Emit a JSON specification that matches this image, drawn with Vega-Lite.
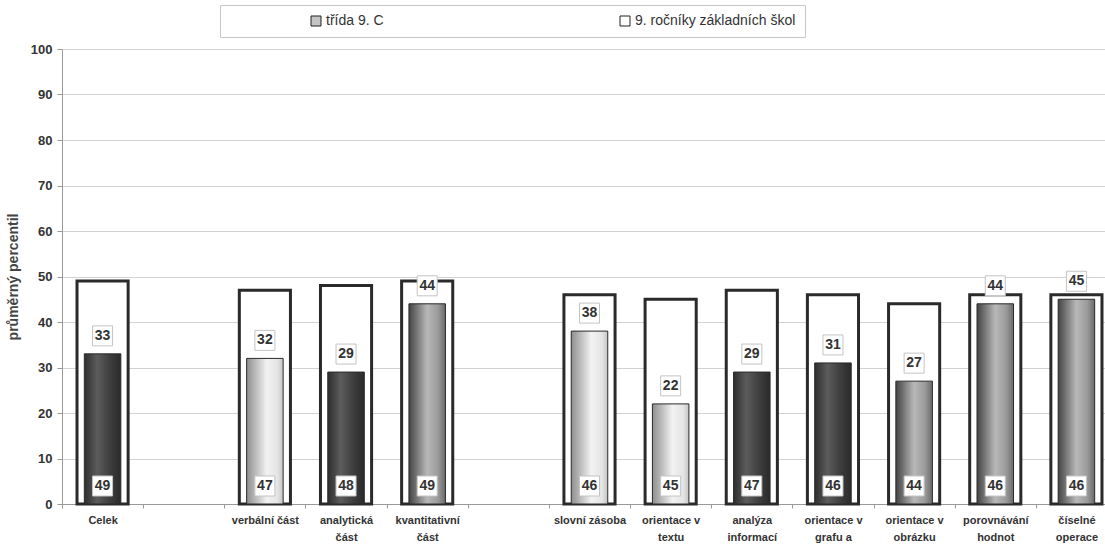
{
  "$schema": "https://vega.github.io/schema/vega-lite/v6.json",
  "width": 1055,
  "height": 455,
  "autosize": {"type": "none"},
  "padding": {"left": 62, "top": 49, "right": -12, "bottom": 40},
  "background": "white",
  "config": {
    "view": {"stroke": null},
    "font": "Liberation Sans",
    "axisY": {
      "labelFontSize": 13, "labelFontWeight": "bold", "labelColor": "#333",
      "gridColor": "#d2d2d2", "domainColor": "#999", "tickColor": "#999",
      "tickSize": 5, "labelPadding": 5,
      "titleFontSize": 14, "titleFontWeight": "bold", "titleColor": "#444", "titlePadding": 10
    },
    "axisX": {
      "labelFontSize": 11, "labelFontWeight": "bold", "labelColor": "#333",
      "domainColor": "#999", "tickColor": "#999", "tickSize": 4, "labelPadding": 6,
      "labelLineHeight": 17, "labelAngle": 0, "grid": false, "tickBand": "extent"
    }
  },
  "data": {
    "values": [
      {"kat": "Celek", "trida": 33, "rocniky": 49},
      {"kat": "verbální část", "trida": 32, "rocniky": 47},
      {"kat": "analytická část", "trida": 29, "rocniky": 48},
      {"kat": "kvantitativní část", "trida": 44, "rocniky": 49},
      {"kat": "slovní zásoba", "trida": 38, "rocniky": 46},
      {"kat": "orientace v textu", "trida": 22, "rocniky": 45},
      {"kat": "analýza informací", "trida": 29, "rocniky": 47},
      {"kat": "orientace v grafu a", "trida": 31, "rocniky": 46},
      {"kat": "orientace v obrázku", "trida": 27, "rocniky": 44},
      {"kat": "porovnávání hodnot", "trida": 44, "rocniky": 46},
      {"kat": "číselné operace", "trida": 45, "rocniky": 46}
    ]
  },
  "encoding": {
    "x": {
      "field": "kat", "type": "nominal", "sort": null, "title": null,
      "scale": {
        "domain": ["Celek", " ", "verbální část", "analytická část", "kvantitativní část", "  ", "slovní zásoba", "orientace v textu", "analýza informací", "orientace v grafu a", "orientace v obrázku", "porovnávání hodnot", "číselné operace"],
        "paddingInner": 0, "paddingOuter": 0
      },
      "axis": {
        "labelExpr": "datum.label == 'orientace v grafu a' ? ['orientace v', 'grafu a'] : length(datum.label) > 14 ? [substring(datum.label, 0, lastindexof(datum.label, ' ')), substring(datum.label, lastindexof(datum.label, ' ') + 1)] : datum.label"
      }
    }
  },
  "layer": [
    {
      "mark": {"type": "bar", "stroke": "#2a2a2a", "strokeWidth": 3, "width": {"band": 0.63}},
      "encoding": {
        "y": {"field": "rocniky", "type": "quantitative", "title": "průměrný percentil",
              "scale": {"domain": [0, 100], "nice": false},
              "axis": {"values": [0, 10, 20, 30, 40, 50, 60, 70, 80, 90, 100]}},
        "fill": {
          "datum": "9. ročníky základních škol", "type": "nominal",
          "scale": {"domain": ["třída 9. C", "9. ročníky základních škol"], "range": ["#c4c4c4", "#ffffff"]},
          "legend": {
            "orient": "none", "legendX": 158, "legendY": -44, "direction": "horizontal",
            "title": " ", "titleOrient": "left", "titlePadding": 80,
            "padding": 9, "strokeColor": "#c8c8c8", "fillColor": "white",
            "columnPadding": 234, "labelFontSize": 14, "labelColor": "#333", "labelLimit": 300,
            "labelOffset": 3, "symbolType": "square", "symbolSize": 100,
            "symbolStrokeColor": "#222", "symbolStrokeWidth": 1,
            "encode": {"symbols": {"update": {"strokeWidth": {"condition": {"test": "datum.value === '9. ročníky základních škol'", "value": 2.5}, "value": 1}}}}
          }
        }
      }
    },
    {
      "transform": [{"filter": {"field": "kat", "oneOf": ["Celek", "analytická část", "analýza informací", "orientace v grafu a"]}}],
      "mark": {"type": "bar", "stroke": "#2a2a2a", "strokeWidth": 1, "width": {"band": 0.45},
        "fill": {"gradient": "linear", "x1": 0, "x2": 1, "y1": 0, "y2": 0,
          "stops": [{"offset": 0, "color": "#2e2e2e"}, {"offset": 0.35, "color": "#5c5c5c"}, {"offset": 0.7, "color": "#3e3e3e"}, {"offset": 1, "color": "#2a2a2a"}]}},
      "encoding": {"y": {"field": "trida", "type": "quantitative", "title": "průměrný percentil"}}
    },
    {
      "transform": [{"filter": {"field": "kat", "oneOf": ["verbální část", "slovní zásoba", "orientace v textu"]}}],
      "mark": {"type": "bar", "stroke": "#2a2a2a", "strokeWidth": 1, "width": {"band": 0.45},
        "fill": {"gradient": "linear", "x1": 0, "x2": 1, "y1": 0, "y2": 0,
          "stops": [{"offset": 0, "color": "#8e8e8e"}, {"offset": 0.55, "color": "#f2f2f2"}, {"offset": 0.85, "color": "#e4e4e4"}, {"offset": 1, "color": "#c4c4c4"}]}},
      "encoding": {"y": {"field": "trida", "type": "quantitative", "title": "průměrný percentil"}}
    },
    {
      "transform": [{"filter": {"field": "kat", "oneOf": ["kvantitativní část", "orientace v obrázku", "porovnávání hodnot", "číselné operace"]}}],
      "mark": {"type": "bar", "stroke": "#2a2a2a", "strokeWidth": 1, "width": {"band": 0.45},
        "fill": {"gradient": "linear", "x1": 0, "x2": 1, "y1": 0, "y2": 0,
          "stops": [{"offset": 0, "color": "#444444"}, {"offset": 0.5, "color": "#b8b8b8"}, {"offset": 0.8, "color": "#9a9a9a"}, {"offset": 1, "color": "#6a6a6a"}]}},
      "encoding": {"y": {"field": "trida", "type": "quantitative", "title": "průměrný percentil"}}
    },
    {
      "mark": {"type": "point", "shape": "square", "size": 400, "filled": true, "fill": "white", "stroke": "#c4c4c4", "strokeWidth": 1, "opacity": 1, "yOffset": -18},
      "encoding": {"y": {"field": "trida", "type": "quantitative", "title": "průměrný percentil"}}
    },
    {
      "mark": {"type": "text", "yOffset": -18, "fontWeight": "bold", "fontSize": 14, "color": "#333", "baseline": "middle"},
      "encoding": {"y": {"field": "trida", "type": "quantitative", "title": "průměrný percentil"}, "text": {"field": "trida"}}
    },
    {
      "mark": {"type": "point", "shape": "square", "size": 400, "filled": true, "fill": "white", "stroke": "#c4c4c4", "strokeWidth": 1, "opacity": 1, "yOffset": -18},
      "encoding": {"y": {"datum": 0, "type": "quantitative", "title": "průměrný percentil"}}
    },
    {
      "mark": {"type": "text", "yOffset": -18, "fontWeight": "bold", "fontSize": 14, "color": "#333", "baseline": "middle"},
      "encoding": {"y": {"datum": 0, "type": "quantitative", "title": "průměrný percentil"}, "text": {"field": "rocniky"}}
    }
  ]
}
